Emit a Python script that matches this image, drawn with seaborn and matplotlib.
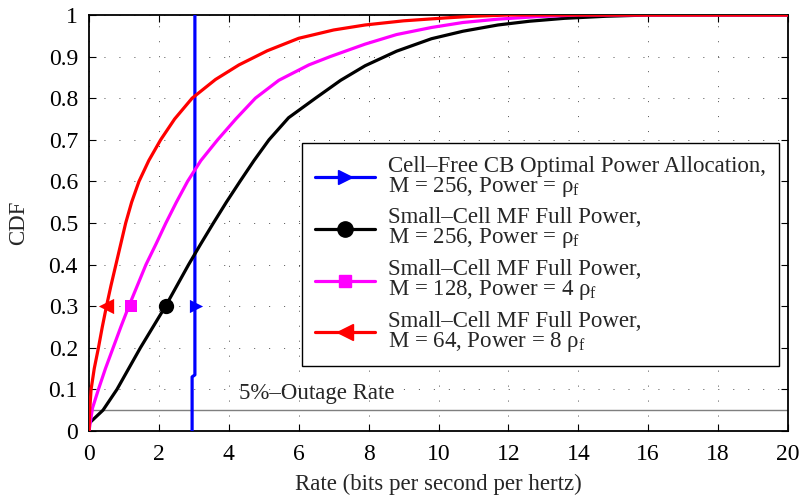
import numpy as np
import pandas as pd
import matplotlib
matplotlib.use("Agg")
import matplotlib.pyplot as plt
import seaborn as sns

# ---- data ----
blue_x = [2.95, 2.95, 3.03, 3.03]
blue_y = [0.0, 0.13, 0.135, 1.0]

black_x = [0.0, 0.01, 0.4, 0.8, 1.47, 2.19, 2.52, 2.85, 3.2, 3.56, 3.93, 4.32, 4.72,
           5.15, 5.71, 6.48, 7.2, 7.9, 8.8, 9.8, 10.7, 11.7, 12.6, 13.6, 14.8, 16.0, 20.0]
black_y = [0.0, 0.019, 0.05, 0.10, 0.20, 0.30, 0.35, 0.40, 0.45, 0.50, 0.55, 0.60, 0.65,
           0.70, 0.753, 0.80, 0.843, 0.878, 0.913, 0.943, 0.961, 0.976, 0.985, 0.992, 0.997, 1.0, 1.0]

magenta_x = [0.0, 0.1, 0.27, 0.47, 0.69, 0.91, 1.14, 1.4, 1.63, 1.92, 2.2, 2.5, 2.82, 3.2,
             3.68, 4.2, 4.76, 5.43, 6.29, 6.9, 7.9, 8.8, 9.8, 10.7, 11.7, 12.8, 14.0, 20.0]
magenta_y = [0.0, 0.055, 0.10, 0.15, 0.20, 0.25, 0.30, 0.353, 0.40, 0.45, 0.50, 0.55, 0.60, 0.65,
             0.70, 0.75, 0.80, 0.843, 0.88, 0.9, 0.93, 0.953, 0.97, 0.982, 0.99, 0.996, 1.0, 1.0]

red_x = [0.0, 0.02, 0.06, 0.15, 0.27, 0.38, 0.5, 0.63, 0.77, 1.05, 1.22, 1.43, 1.71, 2.05,
         2.45, 2.95, 3.62, 4.29, 5.1, 6.0, 7.0, 7.9, 9.0, 10.2, 11.0, 12.0, 20.0]
red_y = [0.0, 0.05, 0.10, 0.15, 0.20, 0.25, 0.30, 0.35, 0.40, 0.50, 0.55, 0.60, 0.65, 0.70,
         0.75, 0.80, 0.845, 0.88, 0.914, 0.944, 0.964, 0.976, 0.986, 0.993, 0.997, 1.0, 1.0]

# marker positions (one marker per curve at CDF = 0.3)
marker_x = {"blue": 3.05, "black": 2.2, "magenta": 1.2, "red": 0.5}
marker_y = 0.3

labels = [
    "Cell\u2013Free CB Optimal Power Allocation,\nM = 256, Power = \u03c1$_{\\mathrm{f}}$",
    "Small\u2013Cell MF Full Power,\nM = 256, Power = \u03c1$_{\\mathrm{f}}$",
    "Small\u2013Cell MF Full Power,\nM = 128, Power = 4 \u03c1$_{\\mathrm{f}}$",
    "Small\u2013Cell MF Full Power,\nM = 64, Power = 8 \u03c1$_{\\mathrm{f}}$",
]
outage_level = 0.05
outage_text = "5%\u2013Outage Rate"
xticks = list(range(0, 21, 2))
yticks = [round(0.1 * i, 1) for i in range(11)]
yticklabels = ["0", "0.1", "0.2", "0.3", "0.4", "0.5", "0.6", "0.7", "0.8", "0.9", "1"]

# ---- style ----
sns.set_theme(style="ticks")
plt.rcParams["font.family"] = ["Liberation Serif", "DejaVu Serif"]
plt.rcParams["mathtext.fontset"] = "custom"
plt.rcParams["mathtext.rm"] = "Liberation Serif"
plt.rcParams["mathtext.it"] = "Liberation Serif:italic"

fig = plt.figure(figsize=(8.01, 4.95), dpi=100)
ax = fig.add_axes([89 / 801, 64 / 495, 699 / 801, 416 / 495])

series = [
    ("blue", blue_x, blue_y, ">", "#0000ff", labels[0], 9.5),
    ("black", black_x, black_y, "o", "#000000", labels[1], 11),
    ("magenta", magenta_x, magenta_y, "s", "#ff00ff", labels[2], 9),
    ("red", red_x, red_y, "<", "#ff0000", labels[3], 11),
]

handles = []
for key, xs, ys, mk, col, lab, ms in series:
    df = pd.DataFrame({"x": xs, "y": ys})
    sns.lineplot(data=df, x="x", y="y", ax=ax, color=col, lw=2.3,
                 estimator=None, sort=False, zorder=3)
    mdf = pd.DataFrame({"x": [marker_x[key]], "y": [marker_y]})
    sns.scatterplot(data=mdf, x="x", y="y", ax=ax, color=col, marker=mk,
                    s=ms ** 2, edgecolor=col, linewidth=0, zorder=4)
    h, = ax.plot([], [], color=col, lw=2.3, marker=mk, ms=ms,
                 markeredgecolor=col, label=lab)
    handles.append(h)

# 5% outage line
ax.axhline(outage_level, color="#7f7f7f", lw=1.0, zorder=2)
ax.text(4.3, 0.09, outage_text, fontsize=16.5, va="center", ha="left")

ax.set_xlim(0, 20)
ax.set_ylim(0, 1)
ax.set_xticks(xticks)
ax.set_yticks(yticks)
ax.set_yticklabels(yticklabels)
ax.tick_params(direction="in", length=5, width=0.8, top=True, right=True,
               labelsize=17, colors="black")
ax.tick_params(axis="x", pad=9)
ax.tick_params(axis="y", pad=8)
ax.grid(True, color="black", lw=0.7, linestyle=(0, (1, 14.4)), alpha=0.7)
for s in ax.spines.values():
    s.set_visible(True)
    s.set_color("black")
    s.set_linewidth(1.3)

ax.set_xlabel("Rate (bits per second per hertz)", fontsize=16.5, labelpad=7)
ax.set_ylabel("CDF", fontsize=16.5, labelpad=14)

leg = ax.legend(handles=handles, loc="upper right", bbox_to_anchor=(0.987, 0.692),
                fontsize=16.5, numpoints=1, handlelength=2.6, fancybox=False,
                framealpha=1, edgecolor="black", labelspacing=0.38,
                borderpad=0.55, handletextpad=0.6, borderaxespad=0)
leg.get_frame().set_linewidth(1.0)
for t in leg.get_texts():
    t.set_linespacing(0.88)

fig.savefig("out.png", dpi=100)
